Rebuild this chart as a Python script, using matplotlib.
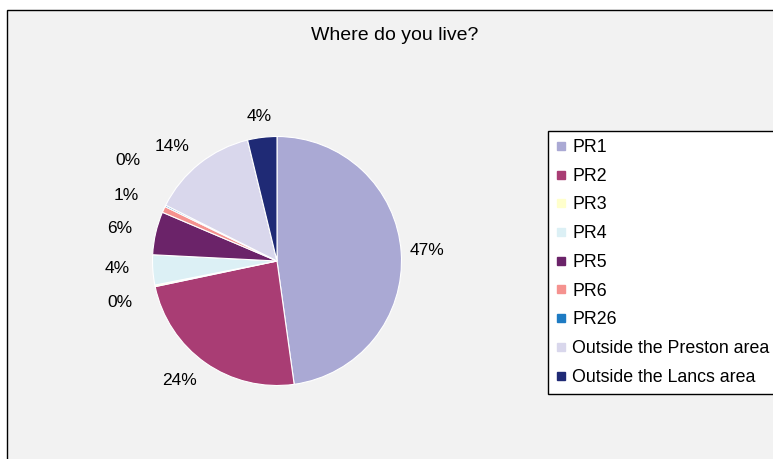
import numpy as np
import matplotlib
matplotlib.use("Agg")
import matplotlib.pyplot as plt
from matplotlib.patches import Rectangle
from matplotlib.lines import Line2D

plt.rcParams['font.family'] = ['Liberation Sans', 'DejaVu Sans']

categories = ["PR1", "PR2", "PR3", "PR4", "PR5", "PR6", "PR26",
              "Outside the Preston area", "Outside the Lancs area"]
values = [47.8, 23.9, 0.2, 3.9, 5.6, 0.8, 0.2, 13.8, 3.8]
pct_labels = ["47%", "24%", "0%", "4%", "6%", "1%", "0%", "14%", "4%"]
colors = ["#aaa9d4", "#a93d74", "#ffffcc", "#dcf0f5", "#6b2369",
          "#f5928f", "#1e7bc3", "#d9d7ec", "#1f2a75"]
title = "Where do you live?"

# label placement overrides (layout) for the crowded small slices: (x, y) in pie-radius units
label_override = {2: (-1.26, -0.33), 3: (-1.28, -0.06), 4: (-1.26, 0.26),
                  5: (-1.21, 0.53), 6: (-1.20, 0.81), 7: (-0.84, 0.92), 1: (-0.78, -0.96)}

W, H = 773, 459
fig = plt.figure(figsize=(W / 100, H / 100), dpi=100, facecolor="white")

# chart area frame
frame = Rectangle((7 / W, -0.1), 1.2, 1 - 10 / H + 0.1, transform=fig.transFigure,
                  facecolor="#f2f2f2", edgecolor="black", linewidth=1.0, zorder=-5)
fig.patches.append(frame)

fig.text(395 / W, 1 - 35 / H, title, ha="center", va="center", fontsize=14)

cx, cy, r = 277, 261, 124.5
half = 1.5 * r
ax = fig.add_axes([(cx - half) / W, (H - cy - half) / H, 2 * half / W, 2 * half / H])
ax.set_zorder(2)

wedges, _ = ax.pie(values, colors=colors, startangle=90, counterclock=False, radius=1,
                   wedgeprops=dict(edgecolor="white", linewidth=0.8))
ax.set_xlim(-1.5, 1.5)
ax.set_ylim(-1.5, 1.5)
ax.set_aspect("equal")
ax.axis("off")

for i, w in enumerate(wedges):
    if i in label_override:
        x, y = label_override[i]
    else:
        ang = np.deg2rad((w.theta1 + w.theta2) / 2)
        x, y = 1.21 * np.cos(ang), 1.17 * np.sin(ang)
    ax.text(x, y, pct_labels[i], ha="center", va="center", fontsize=12.5)

handles = [Line2D([0], [0], marker="s", linestyle="none", markersize=6,
                  markerfacecolor=c, markeredgecolor=c) for c in colors]
leg = fig.legend(handles, categories, loc="upper left",
                 bbox_to_anchor=(548 / W, 1 - 131 / H), bbox_transform=fig.transFigure,
                 borderaxespad=0, frameon=True, fancybox=False, fontsize=12.8,
                 labelspacing=0.66, handlelength=0.6, handletextpad=0.3,
                 borderpad=0.45, framealpha=1)
leg.get_frame().set_edgecolor("black")
leg.get_frame().set_linewidth(1.0)
leg.get_frame().set_facecolor("white")
leg.set_zorder(3)

fig.savefig("out.png", dpi=100, facecolor="white")
